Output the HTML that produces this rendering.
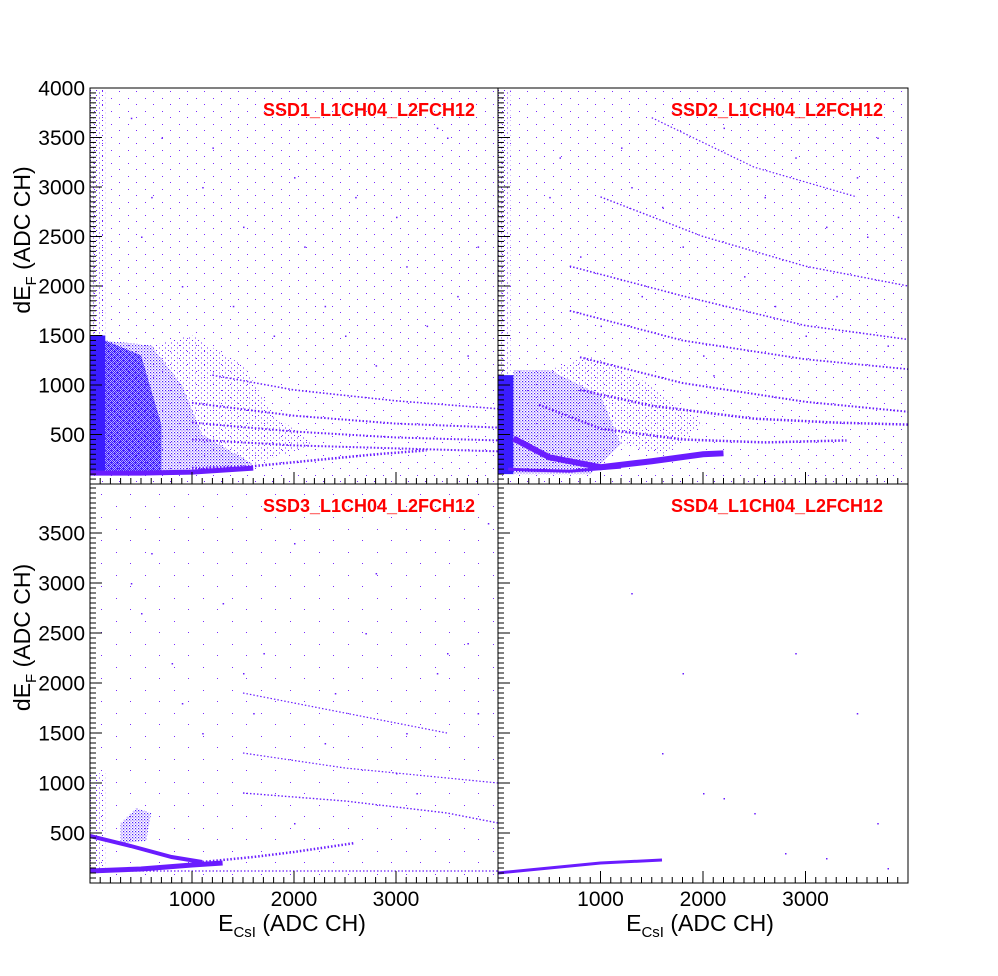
<!DOCTYPE html>
<html><head><meta charset="utf-8"><style>
html,body{margin:0;padding:0;background:#fff;}
svg text{font-family:"Liberation Sans",sans-serif;}
</style></head><body>
<svg id="c" width="998" height="971" viewBox="0 0 998 971" xmlns="http://www.w3.org/2000/svg">
<defs>
<pattern id="med" width="2" height="2" patternUnits="userSpaceOnUse"><rect width="1.3" height="1.3" fill="#3a1cff"/><rect x="1" y="1" width="1" height="1" fill="#3a1cff"/></pattern>
<pattern id="low" width="3" height="3" patternUnits="userSpaceOnUse"><rect width="1.2" height="1.2" fill="#4a1cff"/><rect x="1.5" y="1.5" width="1" height="1" fill="#5a1cff"/></pattern>
<pattern id="vlow" width="6" height="5" patternUnits="userSpaceOnUse"><rect width="1" height="1" fill="#6a1cff"/><rect x="3" y="2.5" width="1" height="1" fill="#6a1cff"/></pattern>
<pattern id="bg" width="17" height="13" patternUnits="userSpaceOnUse"><rect width="1" height="1" fill="#7a2cff"/><rect x="9" y="7" width="1" height="1" fill="#7a2cff"/></pattern>
<pattern id="bg2" width="29" height="23" patternUnits="userSpaceOnUse"><rect width="1" height="1" fill="#7a2cff"/><rect x="14" y="11" width="1" height="1" fill="#7a2cff"/></pattern>
</defs>
<g id="plots"></g>
</svg>
<script>
// ---------- data ----------
const panelTitles = ["SSD1_L1CH04_L2FCH12","SSD2_L1CH04_L2FCH12","SSD3_L1CH04_L2FCH12","SSD4_L1CH04_L2FCH12"];
const xTickLabels = ["1000","2000","3000"];
const yTickLabelsTop = ["500","1000","1500","2000","2500","3000","3500","4000"];
const yTickLabelsBottom = ["500","1000","1500","2000","2500","3000","3500"];
// dense regions: [panel, density, [x,y,...]]
const regions = [
 [0,"bg",[0,0,4000,0,4000,4000,0,4000]],
 [1,"bg",[0,0,4000,0,4000,4000,0,4000]],
 [2,"bg2",[0,0,4000,0,4000,3990,0,3990]],
 [0,"low",[150,1450,600,1400,900,1000,1100,500,1600,200,1000,100,150,100]],
 [0,"vlow",[600,1400,1000,1500,1500,1200,1800,700,2200,400,1600,200,1100,500,900,1000]],
 [0,"med",[150,100,700,100,700,600,500,1300,150,1450]],
 [0,"solid",[0,100,150,100,150,1500,0,1500]],
 [0,"vlow",[0,1500,150,1500,150,4000,0,4000]],
 [1,"low",[150,100,900,100,1200,400,1000,900,500,1150,150,1150]],
 [1,"vlow",[500,1150,1000,900,1200,400,1600,300,2000,600,1500,1000,900,1300]],
 [1,"solid",[0,100,150,100,150,1100,0,1100]],
 [1,"vlow",[0,1100,120,1100,120,4000,0,4000]],
 [2,"low",[300,400,550,420,600,700,450,750,300,600]],
 [2,"vlow",[0,120,150,120,150,1100,0,1100]]
];
// bands: [panel, width, solid?, xs, ys]
const bands = [
 [0,5,1,[0,500,1000,1300,1600],[110,110,120,140,160]],
 [0,2.5,0,[1000,1600,2200,2800,3300],[160,180,240,300,340]],
 [0,2,0,[1000,2000,3000,4000],[450,390,360,330]],
 [0,2,0,[1000,2000,3000,4000],[620,530,470,440]],
 [0,2,0,[1000,2000,3000,4000],[820,690,610,570]],
 [0,1.6,0,[1200,2000,3000,4000],[1100,950,840,760]],
 [1,6,1,[150,500,1000,1500,2000,2200],[460,270,170,230,300,310]],
 [1,3,1,[100,300,700,1200],[150,140,130,170]],
 [1,2.5,0,[400,1000,1800,2600,3400],[800,560,450,420,440]],
 [1,2.5,0,[800,1500,2500,3300,4000],[950,790,660,620,600]],
 [1,2,0,[800,1800,3000,4000],[1280,1020,830,730]],
 [1,1.8,0,[700,1800,3000,4000],[1750,1450,1260,1160]],
 [1,1.6,0,[700,1800,3000,4000],[2200,1900,1600,1460]],
 [1,1.4,0,[1000,2000,3000,4000],[2900,2500,2200,2000]],
 [1,1.2,0,[1500,2500,3500],[3700,3200,2900]],
 [2,4,1,[0,400,800,1100],[470,370,260,210]],
 [2,5,1,[0,500,1000,1300],[120,140,180,200]],
 [2,2.5,0,[1000,1600,2000,2600],[200,260,310,400]],
 [2,1.2,0,[0,1000,2000,3000,4000],[120,120,120,120,120]],
 [2,1.4,0,[1500,2500,3500,4000],[900,820,700,600]],
 [2,1.2,0,[1500,2500,3500,4000],[1300,1150,1050,1000]],
 [2,1.2,0,[1500,2500,3500],[1900,1700,1500]],
 [3,3,1,[0,500,1000,1600],[100,150,200,230]]
];
// sparse points [panel, x, y]
const sparseX = [[700,1200,2100,2600,3100,3500,900,1500,2300,3300,3800,400,600,1800,2800,3600,1100,2000,3000,3700,500,1400,2500,3400],
 [1300,2200,2900,3500,3900,800,1600,2400,3200,600,1800,2700,3700,1000,2000,3000,3800,1400,2600,3600,500,1200,3300,2100],
 [600,1300,2000,2700,3400,3900,900,1700,2400,3100,3700,500,1500,2300,3000,3800,1100,2800,3500,400,2000,1600,3200,800],
 [1300,1800,2000,2200,2500,2800,3200,3500,3700,3800,1600,2900]];
const sparseY = [[3500,3400,2400,2900,2200,3500,2000,2600,1800,1600,2400,3700,2900,1500,1200,1900,3000,3100,2700,1300,2500,1800,1500,3600],
 [3000,3600,3300,3100,2700,2300,2800,2100,2600,3300,2400,1800,3500,1600,1300,1500,1400,1900,2900,2500,2900,3400,1900,1100],
 [3300,2800,3400,2500,2100,3600,1800,2300,1900,1500,2400,2700,2100,1400,1100,1700,1500,3100,2300,3000,600,1700,900,2200],
 [2900,2100,900,850,700,300,250,1700,600,150,1300,2300]];

// ---------- layout ----------
const P = [
 {x0:90,x1:498,y0:88,y1:484,ymax:4000},
 {x0:498,x1:908,y0:88,y1:484,ymax:4000},
 {x0:90,x1:498,y0:484,y1:883,ymax:3990},
 {x0:498,x1:908,y0:484,y1:883,ymax:3990}
];
const NS="http://www.w3.org/2000/svg";
const g=document.getElementById('plots');
function mk(t,a,parent){const e=document.createElementNS(NS,t);for(const k in a)e.setAttribute(k,a[k]);(parent||g).appendChild(e);return e;}
function sx(p,v){return p.x0+v/4000*(p.x1-p.x0);}
function sy(p,v){return p.y1-v/p.ymax*(p.y1-p.y0);}
const fills={solid:"#3a1cff",med:"url(#med)",low:"url(#low)",vlow:"url(#vlow)",bg:"url(#bg)",bg2:"url(#bg2)"};

P.forEach((p,i)=>{
 const pg=mk('g',{});
 
 
 regions.filter(r=>r[0]===i).forEach(r=>{
  const pts=[];for(let k=0;k<r[2].length;k+=2)pts.push(sx(p,r[2][k])+','+sy(p,r[2][k+1]));
  const e=mk('polygon',{points:pts.join(' '),fill:fills[r[1]]},pg);
  
  
 });
 bands.filter(b=>b[0]===i).forEach(b=>{
  const pts=b[3].map((x,k)=>sx(p,x)+','+sy(p,b[4][k]));
  const a={points:pts.join(' '),fill:'none',stroke:'#6a1cff','stroke-width':b[1]};
  if(!b[2])a['stroke-dasharray']='1.5 2';
  const e=mk('polyline',a,pg);
  
  
 });
 sparseX[i].forEach((x,k)=>{
  const e=mk('rect',{x:sx(p,x),y:sy(p,sparseY[i][k]),width:1.5,height:1.5,fill:'#6a1cff'},pg);
  
  
 });
 const fr=mk('rect',{x:p.x0,y:p.y0,width:p.x1-p.x0,height:p.y1-p.y0,fill:'none',stroke:'#000','stroke-width':1},pg);
 
 
 for(let v=100;v<4000;v+=100){
  const X=sx(p,v),L=(v%1000===0)?12:6;
  mk('line',{x1:X,x2:X,y1:p.y1,y2:p.y1-L,stroke:'#000','stroke-width':1},pg);
 }
 for(let v=50;v<p.ymax;v+=50){
  const Y=sy(p,v),L=(v%500===0)?12:6;
  mk('line',{x1:p.x0,x2:p.x0+L,y1:Y,y2:Y,stroke:'#000','stroke-width':1},pg);
 }
 const t=mk('text',{x:p.x0+385,y:p.y0+28,'text-anchor':'end','font-size':18,'font-weight':'bold',fill:'#ff0000',textLength:212,lengthAdjust:'spacingAndGlyphs'},pg);
 t.textContent=panelTitles[i];
 
 
 if(i%2===0){
  const labs=i===0?yTickLabelsTop:yTickLabelsBottom;
  labs.forEach(s=>{
   const e=mk('text',{x:p.x0-5,y:sy(p,+s)+7.5,'text-anchor':'end','font-size':21},pg);
   e.textContent=s;
   
   
  });
  const cy=(p.y0+p.y1)/2-46;
  const yt=mk('text',{x:0,y:0,'font-size':23,'text-anchor':'middle',transform:`translate(30,${cy}) rotate(-90)`},pg);
  yt.innerHTML='dE<tspan font-size="15" dy="6">F</tspan><tspan dy="-6"> (ADC CH)</tspan>';
  
  
 }
 if(i>=2){
  xTickLabels.forEach(s=>{
   const e=mk('text',{x:sx(p,+s),y:p.y1+23,'text-anchor':'middle','font-size':21},pg);
   e.textContent=s;
   
   
  });
  const xt=mk('text',{x:p.x0+202,y:p.y1+48,'font-size':23,'text-anchor':'middle'},pg);
  xt.innerHTML='E<tspan font-size="15" dy="6">CsI</tspan><tspan dy="-6"> (ADC CH)</tspan>';
  
  
 }
});
</script>
</body></html>
